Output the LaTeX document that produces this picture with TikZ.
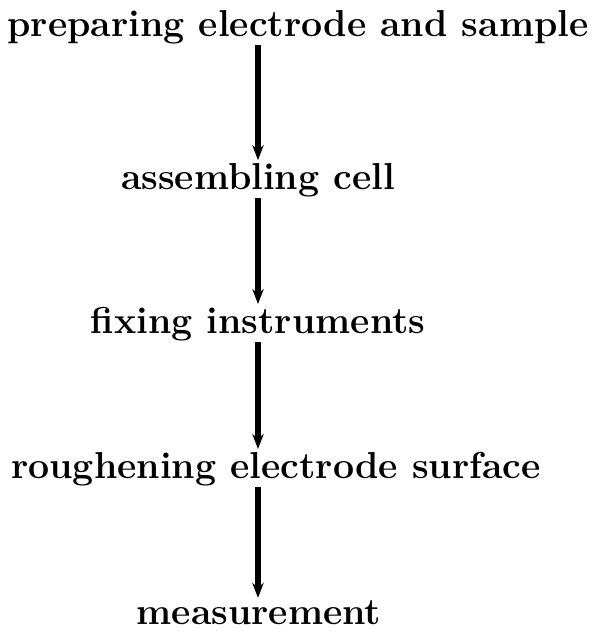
\documentclass[tikz,border=0pt]{standalone}
\usepackage{tikz}
\usetikzlibrary{arrows.meta}

\begin{document}
\begin{tikzpicture}[
  x=0.03cm, y=-0.03cm,
  font=\fontsize{32}{38}\selectfont\bfseries,
  stepnode/.style={inner sep=1pt, anchor=center},
  flowarr/.style={-{Stealth[length=4.5mm, width=3.4mm]}, line width=1.9mm, shorten >=0.5mm}
]
\useasboundingbox (0,0) rectangle (594,636);

\node[stepnode] (prep) at (298,27) {preparing electrode and sample};
\node[stepnode] (cell) at (258,180) {assembling cell};
\node[stepnode] (inst) at (258,324) {fixing instruments};
\node[stepnode] (rough) at (276,469) {roughening electrode surface};
\node[stepnode] (meas) at (259,613) {measurement};

\draw[flowarr] (cell |- prep.south) -- (cell.north);
\draw[flowarr] (cell.south) -- (inst.north);
\draw[flowarr] (inst.south) -- (inst |- rough.north);
\draw[flowarr] (inst |- rough.south) -- (inst |- meas.north);
\end{tikzpicture}
\end{document}
